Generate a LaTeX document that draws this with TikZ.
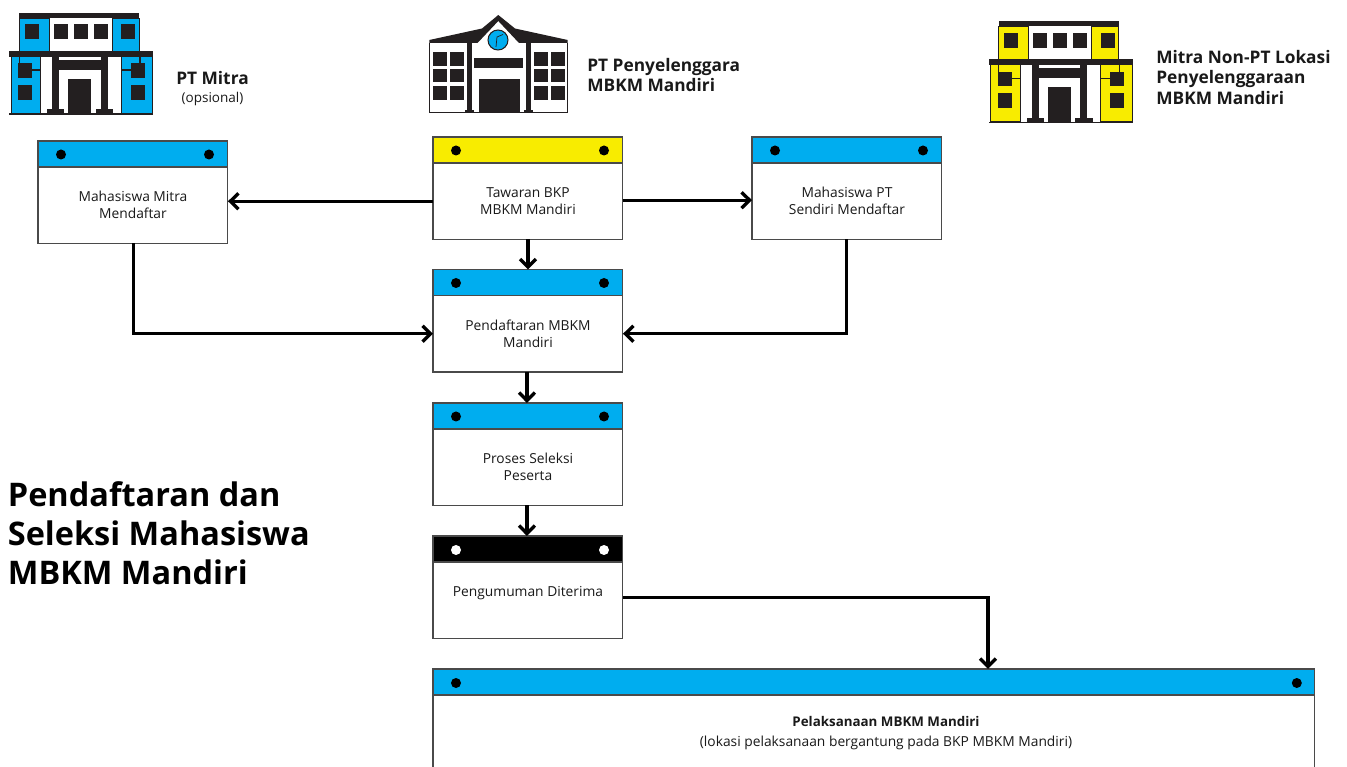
\documentclass[tikz,border=0pt]{standalone}
\usepackage{fontspec}
\setmainfont{Open Sans}
\usetikzlibrary{arrows.meta}
\definecolor{birumbkm}{HTML}{00ADEF}
\definecolor{kuningmbkm}{HTML}{F8EC00}
\definecolor{hitamgedung}{HTML}{231F20}
\definecolor{garisbox}{HTML}{4A4A4A}
\tikzset{
    kepala/.style={draw=garisbox,line width=0.6pt,anchor=north west,minimum width=3.8cm,minimum height=0.52cm,inner sep=0pt,outer sep=0pt},
    badan/.style={draw=garisbox,line width=0.6pt,fill=white,anchor=north,minimum width=3.8cm,minimum height=1.53cm,inner sep=0pt,outer sep=0pt,align=center,text=black!90,font=\fontsize{7.85}{9.6}\selectfont},
    judul/.style={anchor=west,align=left,inner sep=0pt,text=black!90,font=\fontsize{9.85}{11.9}\selectfont\bfseries},
    panah/.style={line width=1.8pt,-{Straight Barb[length=4.6pt,width=9pt,line width=1.9pt]}},
}
% gedung kecil, warna sayap sebagai argumen
\newcommand{\gedungmitra}[3]{
\begin{scope}[shift={(#1,#2)}]
    \fill[#3,draw=hitamgedung,line width=0.3pt] (19.3,18) rectangle (49.3,51);
    \fill[#3,draw=hitamgedung,line width=0.3pt] (112.3,18) rectangle (139.3,51);
    \fill[#3,draw=hitamgedung,line width=0.3pt] (11.3,56) rectangle (40.7,113);
    \fill[#3,draw=hitamgedung,line width=0.3pt] (121.3,56) rectangle (152.7,113);
    \fill[hitamgedung] (19.3,12.7) rectangle (139.3,18);
    \fill[hitamgedung] (9.3,51) rectangle (153.3,56.7);
    \fill[hitamgedung] (9.3,113.3) rectangle (153.3,114.7);
    \foreach \xa in {25,54,73.7,93.7,121.3}
        \fill[hitamgedung] (\xa,24.3) rectangle ++(14,15);
    \foreach \xa in {18.3,130.7}{
        \fill[hitamgedung] (\xa,63.3) rectangle ++(14,14.5);
        \fill[hitamgedung] (\xa,85) rectangle ++(14,15);
    }
    \draw[hitamgedung,line width=0.7pt] (32.3,70) -- (40.7,70) (19.3,56.7) -- (19.3,63.3);
    \draw[hitamgedung,line width=0.7pt] (121.3,70) -- (130.7,70) (140,56.7) -- (140,63.3);
    \fill[hitamgedung] (52.3,56.7) rectangle (59.3,110);
    \fill[hitamgedung] (100.7,56.7) rectangle (107.7,110);
    \fill[hitamgedung] (47.3,109.3) rectangle (64.3,113.3);
    \fill[hitamgedung] (96,109.3) rectangle (113.3,113.3);
    \fill[hitamgedung] (59.3,60) rectangle (100.7,70);
    \fill[hitamgedung] (68.3,79) rectangle (91.3,113.3);
\end{scope}
}
\begin{document}
\begin{tikzpicture}[x=0.02cm,y=-0.02cm]
    \useasboundingbox (0,0) rectangle (1347,767);
    \clip (0,0) rectangle (1347,767);

    % gedung
    \gedungmitra{0}{0}{birumbkm}
    \gedungmitra{979.4}{8.5}{kuningmbkm}

    \fill[hitamgedung] (429.3,40) -- (482,28.5) -- (498.3,15) -- (515,28.5) -- (567.7,40) -- (567.7,43) -- (519,43) -- (498.3,21) -- (477.5,43) -- (429.3,43) -- cycle;
    \draw[hitamgedung,line width=0.5pt] (429.8,43) -- (429.8,112.7) (567.2,43) -- (567.2,112.7);
    \fill[hitamgedung] (467,43) rectangle (471.5,112.7);
    \fill[hitamgedung] (525.5,43) rectangle (530.5,112.7);
    \fill[hitamgedung] (465,110) rectangle (473.5,112.7);
    \fill[hitamgedung] (523.5,110) rectangle (532.5,112.7);
    \fill[hitamgedung] (429.3,112.3) rectangle (567.7,113.3);
    \foreach \xa in {433.3,450,534.3,551}
        \foreach \ya in {52.3,69,86.3}
            \fill[hitamgedung] (\xa,\ya) rectangle ++(13.7,13.3);
    \fill[hitamgedung] (474.3,58.3) rectangle (523.3,68.3);
    \fill[hitamgedung] (479,79.3) rectangle (520,112.7);
    \fill[birumbkm,draw=hitamgedung,line width=0.6pt] (498,40) circle (10);
    \draw[hitamgedung,line width=0.4pt] (496,47) -- (497,37) -- (503,34.5);

    % label gedung
    \node[judul,anchor=center] (labelmitra) at (212.5,78) {PT Mitra};
    \node[anchor=center,text=black!90,font=\fontsize{7.7}{9}\selectfont] (labelopsional) at (212.5,98.5) {(opsional)};
    \node[judul] (labelpenyelenggara) at (587,75) {PT Penyelenggara\\MBKM Mandiri};
    \node[judul] (labelnonpt) at (1156,77.5) {Mitra Non-PT Lokasi\\Penyelenggaraan\\MBKM Mandiri};

    \node[anchor=west,align=left,inner sep=0pt,text=black,font=\fontsize{18.5}{22.1}\selectfont\bfseries] (judulutama) at (7.5,533.5) {Pendaftaran dan\\Seleksi Mahasiswa\\MBKM Mandiri};

    % kotak
    \node[kepala,fill=birumbkm] (mitrahead) at (38,141) {};
    \node[badan] (mitra) at (mitrahead.south) {Mahasiswa Mitra\\Mendaftar};
    \node[kepala,fill=kuningmbkm] (tawaranhead) at (433,137) {};
    \node[badan] (tawaran) at (tawaranhead.south) {Tawaran BKP\\MBKM Mandiri};
    \node[kepala,fill=birumbkm] (sendirihead) at (752,137) {};
    \node[badan] (sendiri) at (sendirihead.south) {Mahasiswa PT\\Sendiri Mendaftar};
    \node[kepala,fill=birumbkm] (daftarhead) at (433,269.5) {};
    \node[badan] (daftar) at (daftarhead.south) {Pendaftaran MBKM\\Mandiri};
    \node[kepala,fill=birumbkm] (seleksihead) at (433,403) {};
    \node[badan] (seleksi) at (seleksihead.south) {Proses Seleksi\\Peserta};
    \node[kepala,fill=black] (umumhead) at (433,536) {};
    \node[badan] (umum) at (umumhead.south) {Pengumuman Diterima\\~};
    \node[kepala,fill=birumbkm,minimum width=17.64cm] (laksanahead) at (433,669) {};
    \node[badan,minimum width=17.64cm,minimum height=2.4cm] (laksana) at (laksanahead.south) {};
    \node[align=center,inner sep=0pt,text=black!90,font=\fontsize{7.85}{11.3}\selectfont] (laksanateks) at (886,733) {{\fontsize{7.6}{11.3}\selectfont\bfseries Pelaksanaan MBKM Mandiri}\\(lokasi pelaksanaan bergantung pada BKP MBKM Mandiri)};

    % titik pada kepala
    \foreach \nama in {mitrahead,tawaranhead,sendirihead,daftarhead,seleksihead}{
        \fill[black] (\nama.west) ++(23,0.5) circle (5);
        \fill[black] (\nama.west) ++(171,0.5) circle (5);
    }
    \fill[white] (umumhead.west) ++(23,1) circle (5);
    \fill[white] (umumhead.west) ++(171,1) circle (5);
    \fill[black] (laksanahead.west) ++(23,1) circle (5);
    \fill[black] (laksanahead.east) ++(-18,1) circle (5);

    % panah
    \coordinate (laksanamasuk) at (988,669);
    \draw[panah] (tawaran.west) -- (tawaran.west -| mitra.east);
    \draw[panah] ([yshift=0.6pt]tawaran.east) -- ([yshift=0.6pt]sendiri.west);
    \draw[panah] (tawaran.south) -- (daftarhead.north);
    \draw[panah] ([xshift=0.3pt]mitra.south) |- (daftar.west);
    \draw[panah] ([xshift=-0.3pt]sendiri.south) |- (daftar.east);
    \draw[panah] ([xshift=-0.6pt]daftar.south) -- ([xshift=-0.6pt]seleksihead.north);
    \draw[panah] ([xshift=-0.6pt]seleksi.south) -- ([xshift=-0.6pt]umumhead.north);
    \draw[panah] ([yshift=1.5pt]umum.east) -| (laksanamasuk);
\end{tikzpicture}
\end{document}
